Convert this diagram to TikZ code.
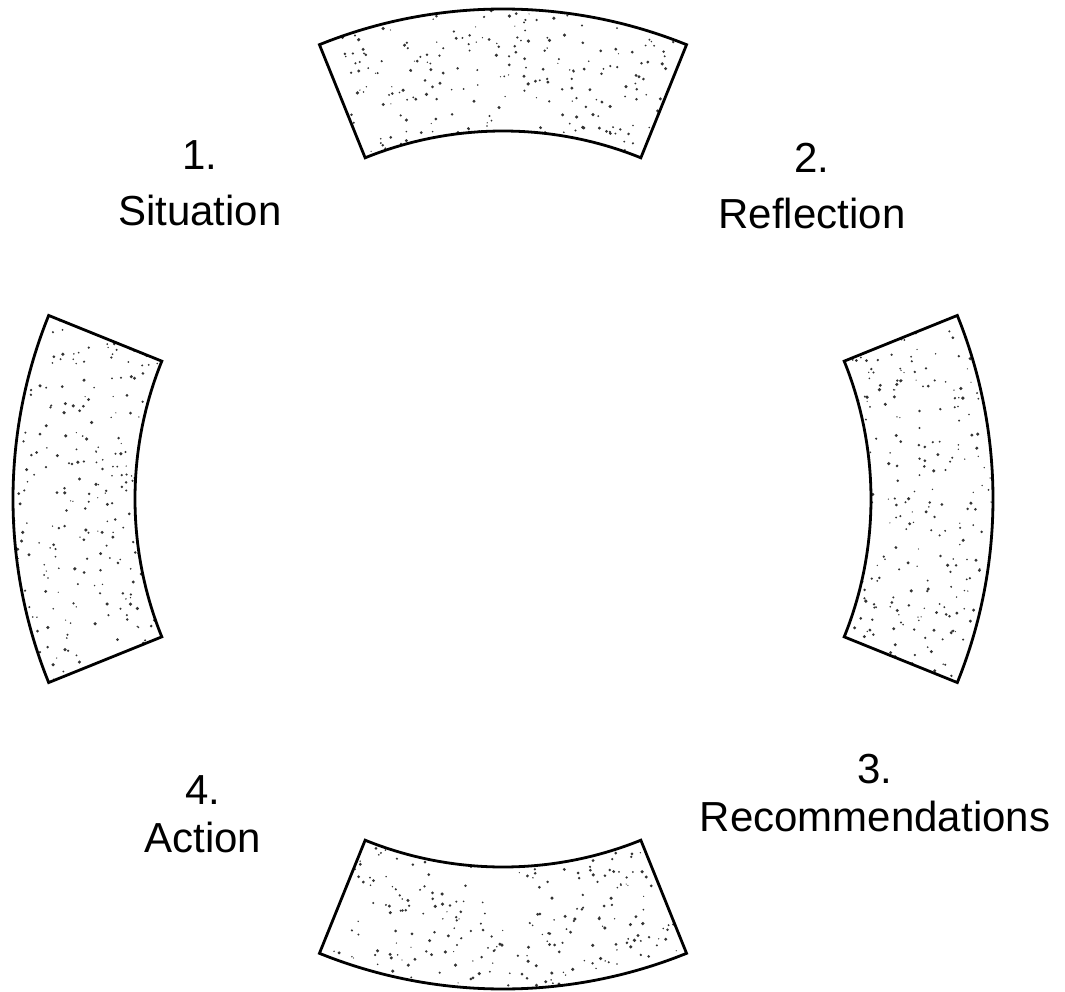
\documentclass[tikz,border=0pt]{standalone}
\usepackage{fontspec}
\setmainfont{Liberation Sans}

\begin{document}
\begin{tikzpicture}[x=1pt,y=1pt]
\tikzset{seg/.style={draw,line width=2.8pt,line join=miter}}
\tikzset{speck/.style={fill=black!80}}
\tikzset{lbl/.style={align=center,font=\fontsize{42}{56}\selectfont,inner sep=0pt}}
\tikzset{lbllow/.style={lbl,font=\fontsize{42}{48}\selectfont}}
\useasboundingbox (-503,-492) rectangle (562,499);
\pgfmathsetseed{4}
% the four ring segments, speckled
\foreach \a in {0,90,180,270}{
  \begin{scope}
    \path[clip] (\a-22:368) arc[start angle=\a-22,end angle=\a+22,radius=368]
      -- (\a+22:490) arc[start angle=\a+22,end angle=\a-22,radius=490] -- cycle;
    \foreach \k in {1,...,220}{
      \pgfmathsetmacro{\t}{\a-22+44*rnd}
      \pgfmathsetmacro{\r}{368+122*rnd}
      \pgfmathsetmacro{\s}{0.6+1.2*rnd}
      \fill[speck] (\t:\r) circle[radius=\s];
    }
  \end{scope}
  \draw[seg] (\a-22:368) arc[start angle=\a-22,end angle=\a+22,radius=368]
    -- (\a+22:490) arc[start angle=\a+22,end angle=\a-22,radius=490] -- cycle;
}

% labels
\node[lbl] (sit) at (-303,316) {1.\\Situation};
\node[lbl] (refl) at (309,313) {2.\\Reflection};
\node[lbllow] (rec) at (372,-294) {3.\\Recommendations};
\node[lbllow] (act) at (-300,-315) {4.\\Action};
\end{tikzpicture}
\end{document}
